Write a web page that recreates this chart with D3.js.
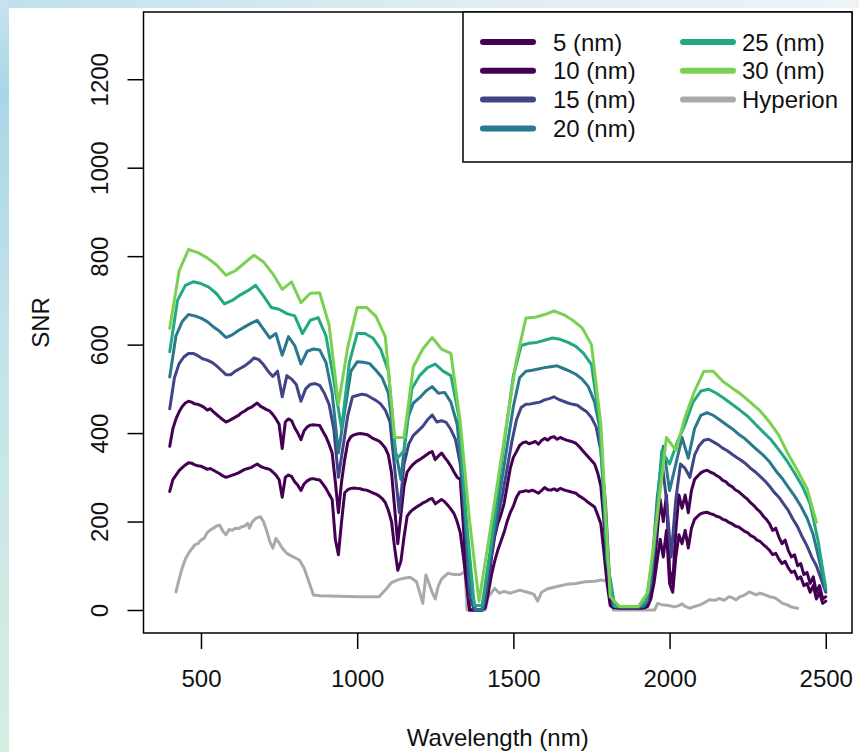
<!DOCTYPE html>
<html>
<head>
<meta charset="utf-8">
<script src="https://cdn.jsdelivr.net/npm/d3@7"></script>
<style>
  html, body { margin: 0; padding: 0; background: #fff; }
  svg { display: block; font-family: "Liberation Sans", Arial, Helvetica, sans-serif; }
</style>
</head>
<body>
<svg id="chart" width="859" height="752"></svg>
<script>
// ---- data -------------------------------------------------------------
const seriesNames = ["5 (nm)", "10 (nm)", "15 (nm)", "20 (nm)", "25 (nm)", "30 (nm)", "Hyperion"];

// band centre grids (nm) for each simulated bandwidth
const wl5  = d3.range(400, 2501, 10);
const wl10 = d3.range(400, 2501, 10);
const wl15 = d3.range(400, 2501, 15);
const wl20 = d3.range(400, 2501, 20);
const wl25 = d3.range(400, 2501, 25);
const wl30 = d3.range(400, 2471, 30);

const snr5 = [
  268, 295, 305, 315, 322, 328, 333, 332, 328, 326,
  325, 322, 318, 320, 316, 312, 308, 303, 300, 302,
  305, 307, 310, 314, 318, 320, 322, 326, 330, 325,
  322, 320, 318, 312, 305, 295, 255, 300, 305, 302,
  290, 282, 270, 285, 292, 296, 297, 295, 294, 285,
  275, 262, 250, 160, 125, 200, 265, 272, 275, 276,
  275, 274, 272, 271, 268, 265, 262, 258, 252, 243,
  225, 200, 140, 90, 110, 165, 212, 222, 228, 233,
  237, 242, 245, 250, 252, 240, 245, 250, 245, 237,
  228, 218, 200, 175, 120, 60, 0, 0, 0, 0,
  0, 5, 40, 80, 110, 135, 155, 175, 200, 220,
  235, 255, 267, 268, 270, 268, 271, 268, 264, 270,
  277, 272, 271, 274, 270, 275, 272, 270, 268, 266,
  264, 258, 254, 249, 243, 238, 233, 215, 195, 130,
  60, 10, 5, 5, 4, 4, 4, 4, 4, 4,
  4, 4, 5, 8, 25, 60, 110, 160, 120, 180,
  60, 40, 120, 170, 150, 180, 140, 185, 205, 212,
  218, 220, 221, 218, 216, 212, 210, 205, 203, 198,
  195, 190, 188, 183, 178, 175, 168, 165, 158, 155,
  148, 142, 135, 125, 128, 115, 105, 110, 95, 85,
  88, 70, 75, 55, 60, 40, 55, 25, 40, 15,
  20
];

const snr10 = [
  370, 410, 432, 448, 460, 468, 472, 470, 466, 465,
  462, 458, 452, 455, 448, 442, 436, 430, 425, 428,
  432, 436, 440, 446, 450, 455, 458, 463, 468, 461,
  457, 453, 450, 442, 432, 420, 365, 425, 432, 428,
  412, 400, 385, 405, 414, 418, 419, 418, 417, 404,
  392, 375, 355, 290, 220, 290, 340, 380, 392, 396,
  398, 399, 398, 397, 393, 388, 385, 382, 375, 366,
  350, 310, 230, 150, 215, 280, 312, 322, 330, 336,
  340, 345, 350, 355, 358, 340, 348, 355, 345, 336,
  325, 312, 300, 295, 190, 70, 0, 0, 0, 0,
  0, 10, 60, 120, 165, 195, 215, 240, 280, 320,
  345, 358, 372, 378, 380, 376, 378, 381, 375, 383,
  388, 384, 390, 392, 386, 390, 387, 384, 382, 380,
  377, 370, 362, 354, 346, 338, 330, 310, 280, 200,
  100, 20, 8, 6, 6, 6, 6, 6, 6, 6,
  6, 6, 6, 12, 40, 90, 170, 250, 200, 260,
  90, 60, 180, 260, 230, 260, 220, 270, 295, 303,
  310, 314, 316, 312, 309, 304, 300, 293, 290, 283,
  279, 272, 268, 262, 256, 250, 242, 236, 228, 222,
  212, 205, 195, 180, 185, 165, 150, 158, 135, 120,
  125, 100, 105, 80, 85, 60, 75, 40, 55, 25,
  30
];

const snr15 = [
  455, 525, 557, 572, 580, 580, 575, 568, 565, 560,
  552, 542, 532, 532, 540, 546, 552, 560, 570, 566,
  555, 540, 528, 540, 482, 530, 522, 510, 472, 500,
  510, 512, 508, 490, 465, 410, 300, 370, 440, 482,
  485, 488, 486, 480, 474, 466, 452, 425, 320, 220,
  330, 375, 395, 405, 415, 430, 441, 425, 428, 424,
  408, 385, 330, 200, 30, 0, 0, 5, 70, 150,
  210, 260, 320, 380, 430, 458, 465, 466, 468, 470,
  475, 478, 482, 476, 472, 468, 465, 463, 455, 448,
  435, 414, 360, 240, 40, 8, 6, 6, 6, 6,
  6, 8, 20, 90, 200, 339, 250, 120, 250, 330,
  320, 300, 350, 372, 384, 386, 380, 374, 366, 360,
  352, 345, 338, 330, 320, 312, 302, 292, 280, 266,
  255, 240, 225, 205, 188, 165, 145, 120, 100, 70,
  40
];

const snr20 = [
  527, 620, 652, 668, 665, 660, 652, 640, 630, 616,
  622, 632, 640, 648, 655, 635, 615, 625, 576, 618,
  598, 556, 585, 590, 588, 560, 490, 355, 450, 540,
  561, 560, 557, 542, 525, 490, 370, 295, 430, 468,
  480, 495, 505, 490, 492, 470, 420, 280, 60, 0,
  0, 100, 190, 280, 370, 460, 525, 540, 542, 545,
  548, 550, 552, 546, 540, 533, 522, 505, 470, 400,
  120, 10, 7, 7, 7, 7, 10, 60, 250, 370,
  270, 330, 390, 343, 410, 440, 446, 440, 430, 420,
  410, 398, 388, 375, 362, 350, 335, 315, 298, 278,
  258, 235, 208, 170, 110, 45
];

const snr25 = [
  584, 700, 734, 742, 738, 730, 715, 692, 700, 712,
  722, 734, 710, 684, 680, 670, 665, 625, 655, 661,
  620, 520, 410, 560, 625, 625, 615, 590, 540, 340,
  360, 500, 530, 548, 556, 540, 530, 440, 200, 10,
  10, 130, 270, 400, 530, 598, 603, 605, 610, 615,
  612, 605, 596, 580, 555, 430, 110, 8, 8, 8,
  8, 20, 140, 360, 330, 380, 420, 470, 495, 499,
  490, 478, 465, 452, 438, 420, 402, 385, 362, 338,
  310, 280, 240, 158, 50
];

const snr30 = [
  637, 766, 815, 808, 796, 780, 757, 767, 785, 802,
  787, 760, 725, 742, 695, 716, 717, 645, 465, 595,
  684, 684, 664, 618, 390, 390, 550, 590, 616, 590,
  580, 425, 200, 20, 153, 291, 429, 565, 660, 662,
  668, 676, 668, 655, 638, 600, 420, 30, 8, 8,
  8, 40, 210, 390, 361, 437, 495, 540, 540, 517,
  502, 487, 469, 450, 425, 395, 352, 315, 275, 198
];

// Hyperion reference SNR (nm, SNR)
const hypWl = [
  420, 430, 440, 450, 460, 470, 480, 490, 500, 510, 520, 530, 540, 550, 560,
  570, 580, 590, 600, 610, 620, 630, 640, 650, 655, 665, 675, 690, 700, 710,
  720, 730, 740, 750, 760, 775, 795, 815, 830, 845, 860, 880, 1000, 1070, 1090,
  1110, 1130, 1150, 1170, 1190, 1200, 1210, 1220, 1230, 1240, 1250, 1260, 1270, 1290, 1310,
  1330, 1345, 1352, 1410, 1420, 1440, 1455, 1470, 1490, 1520, 1545, 1565, 1578, 1590, 1610,
  1640, 1670, 1700, 1730, 1760, 1780, 1800, 1812, 1820, 1952, 1962, 1975, 1990, 2005, 2015,
  2030, 2040, 2050, 2065, 2080, 2096, 2110, 2127, 2145, 2159, 2175, 2190, 2200, 2213, 2225,
  2234, 2245, 2255, 2265, 2277, 2290, 2300, 2310, 2320, 2335, 2345, 2362, 2375, 2389, 2410
];
const hypSnr = [
  41, 70, 95, 115, 128, 138, 147, 150, 158, 162, 175, 181, 185, 190, 192,
  178, 170, 182, 180, 185, 184, 188, 190, 196, 185, 200, 207, 211, 200, 180,
  155, 140, 162, 152, 140, 128, 120, 113, 95, 65, 34, 32, 30, 30, 45,
  62, 68, 72, 74, 64, 40, 15, 79, 60, 40, 25, 55, 70, 83, 80,
  80, 87, 0, 0, 30, 49, 38, 42, 38, 45, 40, 36, 20, 40, 48,
  53, 58, 60, 64, 65, 68, 66, 64, 0, 0, 15, 12, 11, 9, 7,
  10, 14, 8, 4, 8, 11, 16, 23, 22, 26, 22, 30, 28, 23, 30,
  32, 36, 41, 38, 34, 38, 36, 33, 30, 28, 24, 15, 12, 7, 4
];

const xTicks = [500, 1000, 1500, 2000, 2500];
const yTicks = [0, 200, 400, 600, 800, 1000, 1200];

// ---- styling ------------------------------------------------------------
const palette = ["#440154", "#440154", "#414487", "#2A788E", "#22A884", "#7AD151", "#A9A9A9"];

const svg = d3.select("#chart");
const W = 859, H = 752;
const box = { left: 143.5, right: 852, top: 12, bottom: 633 };
const fontSize = 24;

// soft page edge behind the figure
const defs = svg.append("defs");
const gv = defs.append("linearGradient").attr("id", "edgeV").attr("x1", 0).attr("y1", 0).attr("x2", 0).attr("y2", 1);
gv.append("stop").attr("offset", "0%").attr("stop-color", "#c6e4ef");
gv.append("stop").attr("offset", "12%").attr("stop-color", "#a9d6e6");
gv.append("stop").attr("offset", "45%").attr("stop-color", "#c3e3ea");
gv.append("stop").attr("offset", "100%").attr("stop-color", "#d5eee0");
const gh = defs.append("linearGradient").attr("id", "edgeH").attr("x1", 0).attr("y1", 0).attr("x2", 1).attr("y2", 0);
gh.append("stop").attr("offset", "0%").attr("stop-color", "#bfe1ec");
gh.append("stop").attr("offset", "50%").attr("stop-color", "#dcecf2");
gh.append("stop").attr("offset", "100%").attr("stop-color", "#eef3f6");

svg.append("rect").attr("width", W).attr("height", H).attr("fill", "#fff");
svg.append("rect").attr("x", 0).attr("y", 0).attr("width", W).attr("height", 8).attr("fill", "url(#edgeH)");
svg.append("rect").attr("x", 0).attr("y", 0).attr("width", 9).attr("height", H).attr("fill", "url(#edgeV)");

// ---- scales -------------------------------------------------------------
const x = d3.scaleLinear().domain([316, 2584]).range([box.left, box.right]);
const y = d3.scaleLinear().domain([-52, 1352]).range([box.bottom, box.top]);

const line = d3.line().x(d => x(d[0])).y(d => y(d[1]));

const plotted = [
  { wl: hypWl, v: hypSnr, col: palette[6] },
  { wl: wl5,  v: snr5,  col: palette[0] },
  { wl: wl10, v: snr10, col: palette[1] },
  { wl: wl15, v: snr15, col: palette[2] },
  { wl: wl20, v: snr20, col: palette[3] },
  { wl: wl25, v: snr25, col: palette[4] },
  { wl: wl30, v: snr30, col: palette[5] }
];

svg.append("g")
  .selectAll("path")
  .data(plotted)
  .join("path")
  .attr("d", s => line(s.wl.map((w, i) => [w, s.v[i]])))
  .attr("fill", "none")
  .attr("stroke", s => s.col)
  .attr("stroke-width", 3)
  .attr("stroke-linejoin", "round")
  .attr("stroke-linecap", "round");

// ---- axes ---------------------------------------------------------------
const xAxis = svg.append("g")
  .attr("transform", `translate(0,${box.bottom})`)
  .call(d3.axisBottom(x).tickValues(xTicks).tickFormat(d3.format("d")).tickSize(16).tickPadding(21));
xAxis.select(".domain").remove();
xAxis.selectAll("line").attr("stroke", "#000").attr("stroke-width", 1.5);
xAxis.selectAll("text")
  .attr("font-size", fontSize).attr("font-family", "Liberation Sans, Arial, sans-serif").attr("fill", "#111");

const yAxis = svg.append("g")
  .attr("transform", `translate(${box.left},0)`)
  .call(d3.axisLeft(y).tickValues(yTicks).tickFormat(d3.format("d")).tickSize(16));
yAxis.select(".domain").remove();
yAxis.selectAll("line").attr("stroke", "#000").attr("stroke-width", 1.5);
yAxis.selectAll("text")
  .attr("font-size", fontSize).attr("font-family", "Liberation Sans, Arial, sans-serif").attr("fill", "#111")
  .attr("transform", "rotate(-90)")
  .attr("text-anchor", "middle")
  .attr("x", 0).attr("y", -(box.left - 108)).attr("dy", null);

// plot frame
svg.append("rect")
  .attr("x", box.left).attr("y", box.top)
  .attr("width", box.right - box.left).attr("height", box.bottom - box.top)
  .attr("fill", "none").attr("stroke", "#000").attr("stroke-width", 1.5);

// axis titles
svg.append("text")
  .attr("x", (box.left + box.right) / 2).attr("y", 746)
  .attr("text-anchor", "middle").attr("font-size", fontSize).attr("fill", "#111")
  .text("Wavelength (nm)");
svg.append("text")
  .attr("transform", `translate(49,${(box.top + box.bottom) / 2}) rotate(-90)`)
  .attr("text-anchor", "middle").attr("font-size", fontSize).attr("fill", "#111")
  .text("SNR");

// ---- legend -------------------------------------------------------------
const legend = svg.append("g");
legend.append("rect")
  .attr("x", 463).attr("y", box.top).attr("width", box.right - 463).attr("height", 162 - box.top)
  .attr("fill", "#fff").attr("stroke", "#000").attr("stroke-width", 1.5);

const legendItems = seriesNames.map((name, i) => ({
  name, col: palette[i],
  colIdx: i < 4 ? 0 : 1,
  row: i < 4 ? i : i - 4
}));
const colX = [483, 683];
const colText = [553, 742];
const rowY = r => 42 + r * 28.8;

const li = legend.selectAll("g.item").data(legendItems).join("g").attr("class", "item");
li.append("line")
  .attr("x1", d => colX[d.colIdx]).attr("x2", d => colX[d.colIdx] + 50)
  .attr("y1", d => rowY(d.row)).attr("y2", d => rowY(d.row))
  .attr("stroke", d => d.col).attr("stroke-width", 6).attr("stroke-linecap", "round");
li.append("text")
  .attr("x", d => colText[d.colIdx]).attr("y", d => rowY(d.row) + 8.5)
  .attr("font-size", fontSize).attr("fill", "#111")
  .text(d => d.name);
</script>
</body>
</html>
